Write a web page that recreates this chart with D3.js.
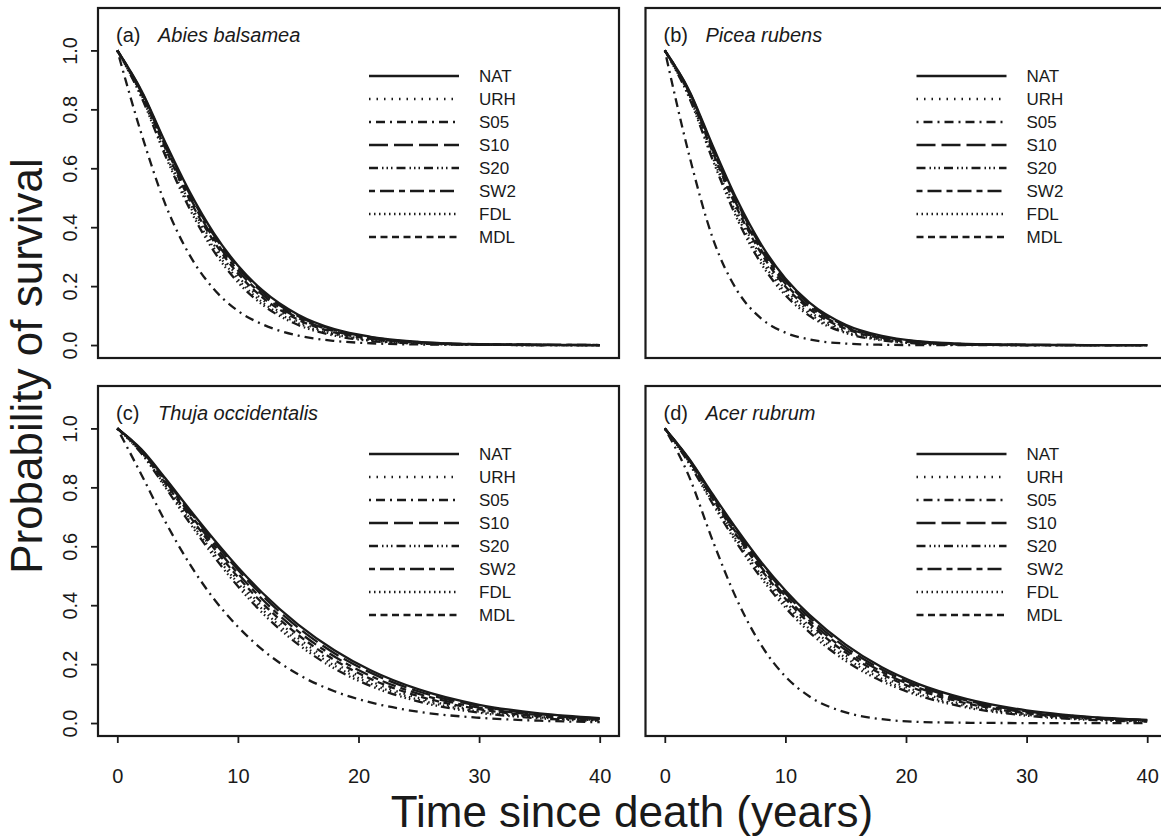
<!DOCTYPE html>
<html>
<head>
<meta charset="utf-8">
<script src="https://cdn.jsdelivr.net/npm/d3@7/dist/d3.min.js"></script>
<style>
	body {margin: 0; background: #fff;}
	svg {display: block;}
	text {font-family: "Liberation Sans", Arial, Helvetica, sans-serif; fill: #1a1a1a;}
</style>
</head>
<body>
<svg id="chart" width="1161" height="838"></svg>
<script>
var years = [0, 2, 4, 6, 8, 10, 12, 15, 18, 21, 25, 30, 35, 40];
var treatments = ['NAT', 'URH', 'S05', 'S10', 'S20', 'SW2', 'FDL', 'MDL'];
var panelTags = ['(a)', '(b)', '(c)', '(d)'];
var species = ['Abies balsamea', 'Picea rubens', 'Thuja occidentalis', 'Acer rubrum'];
var yTicks = [0, 0.2, 0.4, 0.6, 0.8, 1.0];
var xTicks = [0, 10, 20, 30, 40];

// rows follow the treatments order
var abiesSurv = [
	[1, 0.864, 0.686, 0.520, 0.380, 0.270, 0.187, 0.103, 0.054, 0.028, 0.011, 0.003, 0.001, 0.000],
	[1, 0.849, 0.658, 0.483, 0.341, 0.233, 0.155, 0.080, 0.039, 0.018, 0.006, 0.002, 0.000, 0.000],
	[1, 0.717, 0.476, 0.305, 0.190, 0.116, 0.071, 0.032, 0.014, 0.006, 0.002, 0.001, 0.000, 0.000],
	[1, 0.861, 0.681, 0.513, 0.373, 0.263, 0.180, 0.098, 0.051, 0.026, 0.010, 0.003, 0.001, 0.000],
	[1, 0.841, 0.641, 0.462, 0.319, 0.213, 0.138, 0.068, 0.032, 0.014, 0.005, 0.001, 0.000, 0.000],
	[1, 0.857, 0.673, 0.503, 0.362, 0.253, 0.172, 0.092, 0.047, 0.023, 0.008, 0.002, 0.001, 0.000],
	[1, 0.845, 0.649, 0.473, 0.330, 0.223, 0.146, 0.074, 0.036, 0.016, 0.005, 0.001, 0.000, 0.000],
	[1, 0.853, 0.666, 0.493, 0.352, 0.243, 0.163, 0.086, 0.043, 0.021, 0.007, 0.002, 0.000, 0.000]
];
var piceaSurv = [
	[1, 0.866, 0.674, 0.492, 0.341, 0.226, 0.144, 0.069, 0.031, 0.013, 0.004, 0.001, 0.000, 0.000],
	[1, 0.851, 0.643, 0.452, 0.299, 0.189, 0.114, 0.050, 0.020, 0.008, 0.002, 0.000, 0.000, 0.000],
	[1, 0.648, 0.360, 0.185, 0.090, 0.042, 0.019, 0.005, 0.001, 0.000, 0.000, 0.000, 0.000, 0.000],
	[1, 0.863, 0.668, 0.484, 0.333, 0.218, 0.138, 0.065, 0.028, 0.012, 0.003, 0.001, 0.000, 0.000],
	[1, 0.842, 0.625, 0.428, 0.276, 0.169, 0.099, 0.041, 0.016, 0.005, 0.001, 0.000, 0.000, 0.000],
	[1, 0.859, 0.660, 0.474, 0.322, 0.208, 0.130, 0.060, 0.025, 0.010, 0.003, 0.000, 0.000, 0.000],
	[1, 0.846, 0.634, 0.440, 0.288, 0.179, 0.106, 0.045, 0.018, 0.006, 0.002, 0.000, 0.000, 0.000],
	[1, 0.855, 0.652, 0.463, 0.311, 0.199, 0.122, 0.055, 0.023, 0.009, 0.002, 0.000, 0.000, 0.000]
];
var thujaSurv = [
	[1, 0.929, 0.830, 0.725, 0.624, 0.529, 0.443, 0.334, 0.247, 0.179, 0.114, 0.062, 0.033, 0.017],
	[1, 0.920, 0.809, 0.695, 0.585, 0.485, 0.397, 0.288, 0.204, 0.142, 0.085, 0.043, 0.021, 0.010],
	[1, 0.843, 0.682, 0.540, 0.422, 0.327, 0.250, 0.165, 0.108, 0.070, 0.038, 0.018, 0.008, 0.003],
	[1, 0.927, 0.826, 0.719, 0.615, 0.520, 0.434, 0.324, 0.237, 0.171, 0.107, 0.058, 0.030, 0.015],
	[1, 0.915, 0.799, 0.679, 0.566, 0.464, 0.375, 0.267, 0.185, 0.126, 0.073, 0.035, 0.016, 0.007],
	[1, 0.925, 0.820, 0.711, 0.605, 0.508, 0.421, 0.311, 0.226, 0.160, 0.099, 0.052, 0.027, 0.013],
	[1, 0.917, 0.804, 0.687, 0.576, 0.475, 0.387, 0.277, 0.195, 0.134, 0.079, 0.039, 0.019, 0.009],
	[1, 0.922, 0.814, 0.702, 0.594, 0.496, 0.408, 0.299, 0.214, 0.150, 0.091, 0.047, 0.023, 0.011]
];
var acerSurv = [
	[1, 0.898, 0.775, 0.656, 0.546, 0.450, 0.367, 0.266, 0.189, 0.133, 0.082, 0.043, 0.022, 0.011],
	[1, 0.888, 0.754, 0.626, 0.511, 0.412, 0.329, 0.230, 0.158, 0.107, 0.062, 0.030, 0.015, 0.007],
	[1, 0.838, 0.616, 0.417, 0.264, 0.158, 0.090, 0.036, 0.013, 0.004, 0.001, 0.000, 0.000, 0.000],
	[1, 0.896, 0.770, 0.648, 0.538, 0.441, 0.358, 0.257, 0.182, 0.126, 0.077, 0.040, 0.020, 0.010],
	[1, 0.882, 0.742, 0.609, 0.492, 0.392, 0.308, 0.211, 0.142, 0.094, 0.053, 0.025, 0.011, 0.005],
	[1, 0.893, 0.765, 0.641, 0.529, 0.431, 0.348, 0.248, 0.174, 0.120, 0.072, 0.036, 0.018, 0.009],
	[1, 0.885, 0.748, 0.618, 0.502, 0.402, 0.319, 0.221, 0.150, 0.100, 0.057, 0.028, 0.013, 0.006],
	[1, 0.891, 0.759, 0.634, 0.520, 0.422, 0.338, 0.239, 0.166, 0.113, 0.067, 0.033, 0.016, 0.008]
];

(function() {

	var INK = '#1a1a1a';
	var PANEL_W = 521, PANEL_H = 350;
	// R style line types, one per treatment
	var DASH = {
		NAT: null,
		URH: '1.5,6',
		S05: '2,5,9,5',
		S10: '19,6',
		S20: '9,4,1.5,3,1.5,3,1.5,4',
		SW2: '6,5,14,5',
		FDL: '1.5,3.5',
		MDL: '7,4.5'
	};

	var svg = d3.select('#chart');
	var allSurv = [abiesSurv, piceaSurv, thujaSurv, acerSurv];
	var origins = [[98, 8], [645.5, 8], [98, 386], [645.5, 386]];

	origins.forEach(function(o, p) {
		drawPanel(p, o[0], o[1], allSurv[p]);
	});

	function drawPanel(p, left, top, surv) {
		// 4% padding on both axes like base R
		var x = d3.scaleLinear().domain([-1.6, 41.6]).range([0, PANEL_W]);
		var y = d3.scaleLinear().domain([-0.044, 1.144]).range([PANEL_H, 0]);
		var g = svg.append('g').attr('transform', 'translate(' + left + ',' + top + ')');

		g.append('clipPath').attr('id', 'clip' + p)
			.append('rect').attr('width', PANEL_W).attr('height', PANEL_H);

		var line = d3.line()
			.x(function(d, i) { return x(years[i]); })
			.y(function(d) { return y(d); })
			.curve(d3.curveMonotoneX);

		g.append('g').attr('clip-path', 'url(#clip' + p + ')')
			.selectAll('path').data(surv).enter().append('path')
			.attr('d', line)
			.attr('fill', 'none')
			.attr('stroke', INK)
			.attr('stroke-width', 2.3)
			.attr('stroke-dasharray', function(d, i) { return DASH[treatments[i]]; });

		g.append('rect')
			.attr('width', PANEL_W).attr('height', PANEL_H)
			.attr('fill', 'none').attr('stroke', INK).attr('stroke-width', 2.2);

		if (p % 2 == 0) {
			var ya = g.append('g').call(d3.axisLeft(y).tickValues(yTicks).tickSize(7).tickFormat(d3.format('.1f')));
			ya.select('.domain').remove();
			ya.selectAll('.tick line').attr('stroke', INK).attr('stroke-width', 1.8);
			ya.selectAll('.tick text')
				.attr('x', null).attr('dy', null)
				.attr('text-anchor', 'middle')
				.attr('transform', 'translate(-21,0) rotate(-90)')
				.style('font-size', '20px').attr('fill', INK);
		}
		if (p >= 2) {
			var xa = g.append('g').attr('transform', 'translate(0,' + PANEL_H + ')')
				.call(d3.axisBottom(x).tickValues(xTicks).tickSize(7));
			xa.select('.domain').remove();
			xa.selectAll('.tick line').attr('stroke', INK).attr('stroke-width', 1.8);
			xa.selectAll('.tick text').attr('y', 47).attr('dy', null)
				.style('font-size', '20px').attr('fill', INK);
		}

		g.append('text').attr('x', 18).attr('y', 34).style('font-size', '20px').text(panelTags[p]);
		g.append('text').attr('x', 60).attr('y', 34).style('font-size', '20px')
			.style('font-style', 'italic').text(species[p]);

		// legend
		var lg = g.append('g').attr('transform', 'translate(271,68)');
		var row = lg.selectAll('g').data(treatments).enter().append('g')
			.attr('transform', function(d, i) { return 'translate(0,' + (i * 23) + ')'; });
		row.append('line')
			.attr('x1', 0).attr('x2', 90)
			.attr('stroke', INK).attr('stroke-width', 2.3)
			.attr('stroke-dasharray', function(d) { return DASH[d]; });
		row.append('text').attr('x', 110).attr('dy', '0.36em')
			.style('font-size', '17px').text(function(d) { return d; });
	}

	svg.append('text')
		.attr('transform', 'translate(42,366) rotate(-90)')
		.attr('text-anchor', 'middle')
		.style('font-size', '44px')
		.text('Probability of survival');

	svg.append('text')
		.attr('x', 632).attr('y', 827)
		.attr('text-anchor', 'middle')
		.style('font-size', '44px')
		.text('Time since death (years)');
}());
</script>
</body>
</html>
